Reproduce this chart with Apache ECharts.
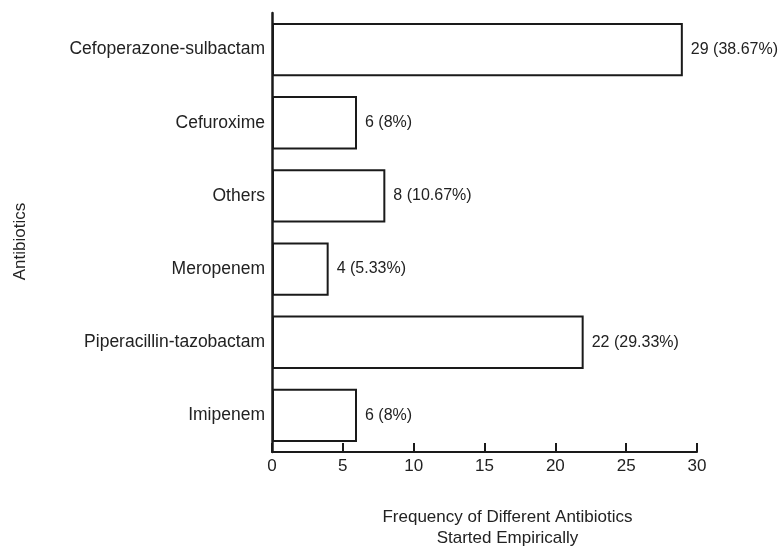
<!DOCTYPE html>
<html>
<head>
<meta charset="utf-8">
<script src="https://cdn.jsdelivr.net/npm/echarts@6/dist/echarts.min.js"></script>
<style>html,body{margin:0;padding:0;background:#fff;}#c{width:780px;height:554px;}</style>
</head>
<body>
<div id="c"></div>
<script>
const categories = ["Cefoperazone-sulbactam", "Cefuroxime", "Others", "Meropenem", "Piperacillin-tazobactam", "Imipenem"];
const counts = [29, 6, 8, 4, 22, 6];
const percentLabels = ["38.67%", "8%", "10.67%", "5.33%", "29.33%", "8%"];
const xTicks = [0, 5, 10, 15, 20, 25, 30];
const xTitle = "Frequency of Different Antibiotics\nStarted Empirically";
const yTitle = "Antibiotics";

const FONT = "'Liberation Sans', Arial, sans-serif";
const chart = echarts.init(document.getElementById('c'));
chart.setOption({
  animation: false,
  backgroundColor: '#fff',
  grid: { left: 272, right: 83, top: 13, bottom: 100, containLabel: false },
  xAxis: {
    type: 'value', min: xTicks[0], max: xTicks[xTicks.length - 1], interval: 5,
    splitLine: { show: false },
    axisLine: { show: true, lineStyle: { color: '#1a1a1a', width: 2 } },
    axisTick: { show: true, inside: true, length: 9, lineStyle: { color: '#1a1a1a', width: 2 } },
    axisLabel: { color: '#222', fontFamily: FONT, fontSize: 17, margin: 6 },
    name: xTitle, nameLocation: 'middle', nameGap: 55,
    nameTextStyle: { color: '#222', fontFamily: FONT, fontSize: 17, lineHeight: 21, padding: [0, 0, 0, 46] }
  },
  yAxis: {
    type: 'category', data: categories, inverse: true,
    axisLine: { show: true, lineStyle: { color: '#1a1a1a', width: 2.5 } },
    axisTick: { show: false },
    axisLabel: { color: '#222', fontFamily: FONT, fontSize: 17.5, margin: 7 },
    name: yTitle, nameLocation: 'middle', nameGap: 243, nameRotate: 90,
    nameTextStyle: { color: '#222', fontFamily: FONT, fontSize: 17, padding: [0, 18, 0, 0] }
  },
  series: [{
    type: 'bar',
    data: counts,
    barCategoryGap: '27%',
    itemStyle: { color: '#fff', borderColor: '#1a1a1a', borderWidth: 2 },
    label: {
      show: true, position: 'right', distance: 8, color: '#222', fontFamily: FONT, fontSize: 16,
      formatter: p => p.value + ' (' + percentLabels[p.dataIndex] + ')'
    }
  }]
});
</script>
</body>
</html>
